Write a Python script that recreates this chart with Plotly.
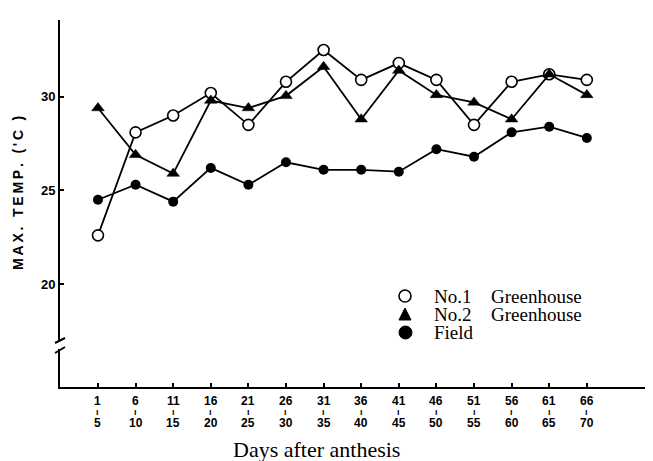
import plotly.graph_objects as go

# ---- data ----
periods_start = ["1", "6", "11", "16", "21", "26", "31", "36", "41", "46", "51", "56", "61", "66"]
periods_end = ["5", "10", "15", "20", "25", "30", "35", "40", "45", "50", "55", "60", "65", "70"]
no1_greenhouse = [22.6, 28.1, 29.0, 30.2, 28.5, 30.8, 32.5, 30.9, 31.8, 30.9, 28.5, 30.8, 31.2, 30.9]
no2_greenhouse = [29.4, 26.9, 25.9, 29.8, 29.4, 30.05, 31.6, 28.8, 31.4, 30.1, 29.7, 28.8, 31.2, 30.1]
field = [24.5, 25.3, 24.4, 26.2, 25.3, 26.5, 26.1, 26.1, 26.0, 27.2, 26.8, 28.1, 28.4, 27.8]
y_ticks = [20, 25, 30]
legend_labels = [("No.1", "Greenhouse"), ("No.2", "Greenhouse"), ("Field", "")]
y_title = "MAX. TEMP. ('C )"
x_title = "Days after anthesis"

# page body has an 8px margin; compensate so the picture lands at the reference pixels
OFF = 8
W, H = 653 - OFF, 461 - OFF
ML, MR, MT, MB = 60 - OFF, 0, 20 - OFF, 74
PW = W - ML - MR
PH = H - MT - MB

def px_x(px):
    return (px - OFF - ML) / PW

def px_y(py):
    return (H - MB - (py - OFF)) / PH

xs = list(range(len(periods_start)))

fig = go.Figure()
fig.add_trace(go.Scatter(
    x=xs, y=no1_greenhouse, mode="lines+markers", name="No.1 Greenhouse",
    line=dict(color="black", width=1.8),
    marker=dict(symbol="circle", size=11, color="white", line=dict(color="black", width=1.6)),
))
fig.add_trace(go.Scatter(
    x=xs, y=no2_greenhouse, mode="lines+markers", name="No.2 Greenhouse",
    line=dict(color="black", width=1.8),
    marker=dict(symbol="triangle-up", size=11, color="black", line=dict(color="black", width=0.5)),
))
fig.add_trace(go.Scatter(
    x=xs, y=field, mode="lines+markers", name="Field",
    line=dict(color="black", width=1.8),
    marker=dict(symbol="circle", size=10, color="black"),
))

sans = "Liberation Sans, Arial"
serif = "Liberation Serif, Times New Roman"

annotations = []
for i, (a, b) in enumerate(zip(periods_start, periods_end)):
    for txt, dy, sz in ((a, -14, 12), ("ı", -25, 9), (b, -36, 12)):
        annotations.append(dict(
            x=i, y=0, xref="x", yref="paper", text=txt, showarrow=False,
            xanchor="center", yanchor="middle", yshift=dy,
            font=dict(family=sans, size=sz, color="black", weight="bold"),
        ))
annotations.append(dict(
    x=px_x(316), y=px_y(449), xref="paper", yref="paper", text=x_title,
    showarrow=False, xanchor="center", yanchor="middle",
    font=dict(family=serif, size=22, color="black"),
))
spaced_y_title = "\u2009".join(y_title)
annotations.append(dict(
    x=px_x(18), y=px_y(193), xref="paper", yref="paper", text=spaced_y_title,
    showarrow=False, xanchor="center", yanchor="middle", textangle=-90,
    font=dict(family=sans, size=14, color="black", weight="bold"),
))

# legend (drawn as text + symbol shapes)
leg_y = [296, 314, 332]
for (lab1, lab2), yy in zip(legend_labels, leg_y):
    annotations.append(dict(
        x=px_x(432), y=px_y(yy), xref="paper", yref="paper", text=lab1,
        showarrow=False, xanchor="left", yanchor="middle",
        font=dict(family=serif, size=19, color="black"),
    ))
    if lab2:
        annotations.append(dict(
            x=px_x(489), y=px_y(yy), xref="paper", yref="paper", text=lab2,
            showarrow=False, xanchor="left", yanchor="middle",
            font=dict(family=serif, size=19, color="black"),
        ))

shapes = [
    # axis break
    dict(type="rect", xref="paper", yref="paper", x0=px_x(56), x1=px_x(64),
         y0=px_y(349), y1=px_y(340), fillcolor="white", line=dict(width=0), layer="above"),
    dict(type="line", xref="paper", yref="paper", x0=px_x(55), x1=px_x(65),
         y0=px_y(343), y1=px_y(338), line=dict(color="black", width=2), layer="above"),
    dict(type="line", xref="paper", yref="paper", x0=px_x(55), x1=px_x(65),
         y0=px_y(353), y1=px_y(347), line=dict(color="black", width=2), layer="above"),
    # legend symbols
    dict(type="circle", xref="paper", yref="paper", x0=px_x(399), x1=px_x(411),
         y0=px_y(302), y1=px_y(290), fillcolor="white", line=dict(color="black", width=1.6)),
    dict(type="path", xref="paper", yref="paper",
         path="M {} {} L {} {} L {} {} Z".format(px_x(399), px_y(320), px_x(411), px_y(320), px_x(405), px_y(308)),
         fillcolor="black", line=dict(color="black", width=1)),
    dict(type="circle", xref="paper", yref="paper", x0=px_x(399), x1=px_x(412),
         y0=px_y(339), y1=px_y(326), fillcolor="black", line=dict(color="black", width=1)),
]

fig.update_layout(
    width=W, height=H,
    margin=dict(l=ML, r=MR, t=MT, b=MB),
    paper_bgcolor="white", plot_bgcolor="white",
    showlegend=False,
    xaxis=dict(
        range=[-1.01, 14.76], showgrid=False, zeroline=False,
        showline=True, linecolor="black", linewidth=2,
        tickvals=xs, ticktext=[""] * len(xs), ticks="inside", ticklen=4,
        tickwidth=2, tickcolor="black",
    ),
    yaxis=dict(
        range=[14.5, 34.1], showgrid=False, zeroline=False,
        showline=True, linecolor="black", linewidth=2,
        tickvals=y_ticks, ticks="inside", ticklen=4, tickwidth=2, tickcolor="black",
        tickfont=dict(family=sans, size=13, color="black", weight="bold"),
    ),
    annotations=annotations,
    shapes=shapes,
)

fig.write_html("out.html")
